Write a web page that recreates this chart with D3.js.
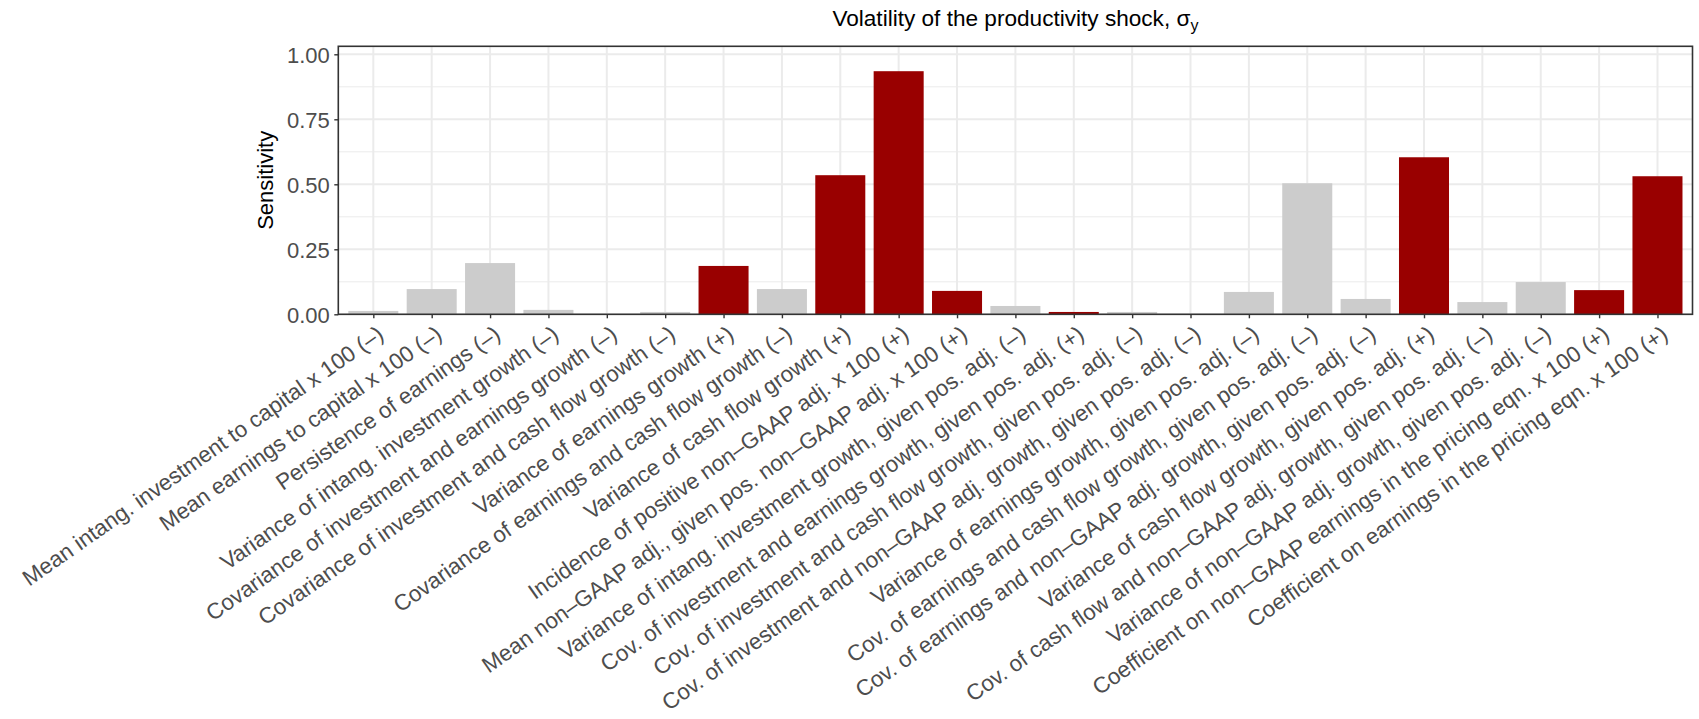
<!DOCTYPE html>
<html>
<head>
<meta charset="utf-8">
<script src="https://cdn.jsdelivr.net/npm/d3@7"></script>
<style>
  html, body { margin: 0; padding: 0; background: #ffffff; }
  svg { display: block; }
  text { font-family: "Liberation Sans", Arial, Helvetica, sans-serif; }
</style>
</head>
<body>
<svg id="chart" width="1699" height="719"></svg>
<script>
const categories = [
  "Mean intang. investment to capital x 100 (–)",
  "Mean earnings to capital x 100 (–)",
  "Persistence of earnings (–)",
  "Variance of intang. investment growth (–)",
  "Covariance of investment and earnings growth (–)",
  "Covariance of investment and cash flow growth (–)",
  "Variance of earnings growth (+)",
  "Covariance of earnings and cash flow growth (–)",
  "Variance of cash flow growth (+)",
  "Incidence of positive non–GAAP adj. x 100 (+)",
  "Mean non–GAAP adj., given pos. non–GAAP adj. x 100 (+)",
  "Variance of intang. investment growth, given pos. adj. (–)",
  "Cov. of investment and earnings growth, given pos. adj. (+)",
  "Cov. of investment and cash flow growth, given pos. adj. (–)",
  "Cov. of investment and non–GAAP adj. growth, given pos. adj. (–)",
  "Variance of earnings growth, given pos. adj. (–)",
  "Cov. of earnings and cash flow growth, given pos. adj. (–)",
  "Cov. of earnings and non–GAAP adj. growth, given pos. adj. (–)",
  "Variance of cash flow growth, given pos. adj. (+)",
  "Cov. of cash flow and non–GAAP adj. growth, given pos. adj. (–)",
  "Variance of non–GAAP adj. growth, given pos. adj. (–)",
  "Coefficient on non–GAAP earnings in the pricing eqn. x 100 (+)",
  "Coefficient on earnings in the pricing eqn. x 100 (+)"
];
const sensitivity = [
  0.013, 0.097, 0.197, 0.017, 0.001, 0.009, 0.186, 0.097, 0.535, 0.935,
  0.090, 0.032, 0.009, 0.009, 0.000, 0.086, 0.504, 0.059, 0.604, 0.047,
  0.124, 0.093, 0.531
];
const direction = ["–","–","–","–","–","–","+","–","+","+","+","–","+","–","–","–","–","–","+","–","–","+","+"];
const yTicks = [0, 0.25, 0.5, 0.75, 1.0];
const yMinor = [0.125, 0.375, 0.625, 0.875];
const titleText = "Volatility of the productivity shock, σ";
const titleSub = "y";
const yTitle = "Sensitivity";

const colorFor = { "+": "#990000", "–": "#CCCCCC" };

const svg = d3.select("#chart");
const pLeft = 338.3, pRight = 1692.5, pTop = 46.3, pBottom = 314.3;

const step = (pRight - pLeft) / (categories.length - 1 + 1.2);
const bw = step * 0.857;
const x = d3.scalePoint().domain(categories).range([pLeft, pRight]).padding(0.6);
const y = d3.scaleLinear().domain([0, (pBottom - pTop) / 260]).range([pBottom, pTop]);

// grid
const grid = svg.append("g");
grid.selectAll(".minor").data(yMinor).join("line")
  .attr("x1", pLeft).attr("x2", pRight)
  .attr("y1", d => y(d)).attr("y2", d => y(d))
  .attr("stroke", "#EBEBEB").attr("stroke-width", 1);
grid.selectAll(".major").data(yTicks).join("line")
  .attr("x1", pLeft).attr("x2", pRight)
  .attr("y1", d => y(d)).attr("y2", d => y(d))
  .attr("stroke", "#EBEBEB").attr("stroke-width", 2);
grid.selectAll(".vmajor").data(categories).join("line")
  .attr("x1", d => x(d)).attr("x2", d => x(d))
  .attr("y1", pTop).attr("y2", pBottom)
  .attr("stroke", "#EBEBEB").attr("stroke-width", 2);

// bars
svg.append("g").selectAll("rect").data(categories).join("rect")
  .attr("x", d => x(d) - bw / 2)
  .attr("width", bw)
  .attr("y", (d, i) => y(sensitivity[i]))
  .attr("height", (d, i) => y(0) - y(sensitivity[i]))
  .attr("fill", (d, i) => colorFor[direction[i]]);

// panel border
svg.append("rect").attr("x", pLeft).attr("y", pTop).attr("width", pRight - pLeft).attr("height", pBottom - pTop)
  .attr("fill", "none").attr("stroke", "#333333").attr("stroke-width", 1.6);

// y axis
const yAxis = d3.axisLeft(y).tickValues(yTicks).tickFormat(d3.format(".2f")).tickSize(4).tickPadding(4.5);
const gy = svg.append("g").attr("transform", `translate(${pLeft},0)`).call(yAxis);
gy.select(".domain").remove();
gy.selectAll(".tick line").attr("stroke", "#333333").attr("stroke-width", 1.4);
gy.selectAll(".tick text").attr("fill", "#4D4D4D").attr("font-size", "22px")
  .attr("font-family", "Liberation Sans, Arial, sans-serif").attr("dy", "0.35em");

// x axis
const xAxis = d3.axisBottom(x).tickSize(4).tickPadding(0);
const gx = svg.append("g").attr("transform", `translate(0,${pBottom})`).call(xAxis);
gx.select(".domain").remove();
gx.selectAll(".tick line").attr("stroke", "#333333").attr("stroke-width", 1.4);
gx.selectAll(".tick text")
  .attr("fill", "#4D4D4D").attr("font-size", "22.4px")
  .attr("font-family", "Liberation Sans, Arial, sans-serif")
  .attr("text-anchor", "end")
  .attr("y", 0).attr("dy", "0.72em")
  .attr("transform", "translate(2,10) rotate(-35)");

// y title
svg.append("text")
  .attr("transform", `translate(273,${(pTop + pBottom) / 2}) rotate(-90)`)
  .attr("text-anchor", "middle")
  .attr("font-size", "22px").attr("fill", "#000000")
  .text(yTitle);

// title
const t = svg.append("text")
  .attr("x", (pLeft + pRight) / 2).attr("y", 26)
  .attr("text-anchor", "middle")
  .attr("font-size", "22.6px").attr("fill", "#000000");
t.append("tspan").text(titleText);
t.append("tspan").attr("font-size", "16px").attr("dy", "5").text(titleSub);
</script>
</body>
</html>
